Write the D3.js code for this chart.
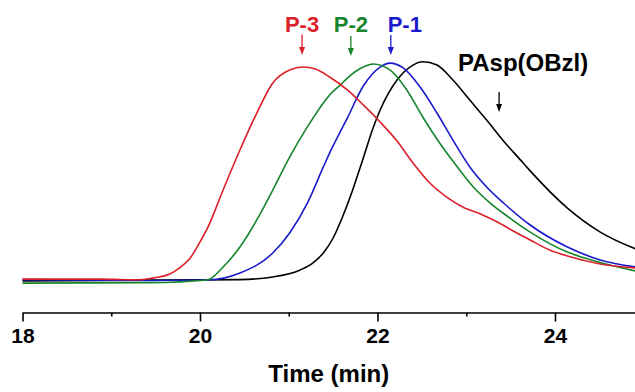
<!DOCTYPE html>
<html>
<head>
<meta charset="utf-8">
<script src="https://cdn.jsdelivr.net/npm/d3@7"></script>
<style>
  html, body { margin: 0; padding: 0; background: #fff; }
  svg { display: block; font-family: "Liberation Sans", Arial, Helvetica, sans-serif; }
</style>
</head>
<body>
<svg id="chart" width="635" height="392"></svg>
<script>
// ---- data (time in min, normalised detector signal) ----
const redTime   = [18.0, 18.87, 19.32, 19.44, 19.66, 19.77, 19.89, 20.0, 20.08, 20.26, 20.45, 20.64, 20.82, 21.01, 21.16, 21.30, 21.46, 21.66, 21.84, 22.03, 22.22, 22.40, 22.59, 22.78, 22.96, 23.16, 23.35, 23.53, 23.72, 23.94, 24.14, 24.51, 24.91];
const redValue  = [1.3, 1.3, 1.0, 1.6, 3.6, 6.4, 10.9, 18.2, 24.1, 41.8, 60.0, 76.8, 90.5, 96.4, 97.7, 96.8, 93.2, 87.3, 80.5, 72.7, 64.1, 54.1, 45.0, 38.6, 34.1, 30.9, 27.3, 23.2, 19.1, 14.5, 11.8, 8.2, 6.4];

const greenTime  = [18.0, 19.44, 20.08, 20.26, 20.45, 20.64, 20.82, 21.01, 21.21, 21.39, 21.46, 21.58, 21.66, 21.84, 21.95, 22.14, 22.33, 22.51, 22.70, 22.90, 23.08, 23.27, 23.46, 23.72, 24.14, 24.51, 24.91];
const greenValue = [-0.5, -0.3, 0.9, 6.8, 15.9, 28.2, 41.8, 56.8, 70.5, 81.4, 85.0, 89.5, 92.7, 97.7, 99.1, 96.4, 87.3, 75.0, 63.2, 52.3, 43.2, 35.9, 30.0, 22.7, 13.6, 8.9, 5.0];

const blueTime  = [18.0, 19.44, 20.08, 20.45, 20.82, 21.01, 21.21, 21.39, 21.46, 21.58, 21.66, 21.84, 22.03, 22.14, 22.29, 22.48, 22.67, 22.85, 23.04, 23.23, 23.42, 23.72, 24.14, 24.51, 24.91];
const blueValue = [1.1, 0.7, 0.9, 4.1, 13.2, 22.3, 35.9, 52.3, 58.6, 68.2, 74.5, 89.1, 97.7, 99.5, 97.3, 88.6, 76.8, 64.5, 52.3, 43.2, 35.9, 25.9, 15.9, 10.0, 6.8];

const blackTime  = [18.0, 20.45, 20.82, 21.13, 21.27, 21.39, 21.50, 21.61, 21.72, 21.84, 21.95, 22.03, 22.22, 22.40, 22.51, 22.67, 22.85, 23.04, 23.23, 23.42, 23.61, 23.72, 24.14, 24.51, 24.91];
const blackValue = [0.5, 1.1, 2.3, 5.5, 8.6, 13.2, 20.0, 30.0, 41.8, 56.4, 70.0, 78.2, 91.8, 98.6, 100.1, 98.6, 91.8, 82.7, 73.6, 64.1, 55.5, 50.5, 33.6, 22.7, 15.0];

const seriesNames  = ["PAsp(OBzl)", "P-1", "P-2", "P-3"];
const labelTimes   = [23.37, 22.15, 21.70, 21.15];   // arrow positions (min)
const majorTicks   = [18, 20, 22, 24];
const minorTicks   = [19, 21, 23];
const xTitle       = "Time (min)";

// ---- layout ----
const svg = d3.select("#chart");
const x = d3.scaleLinear().domain([18, 18 + (635 - 22.5) / 88.75]).range([22.5, 635]);
const y = d3.scaleLinear().domain([0, 100]).range([282, 62]);
const axisY = 312.5;

const colors = ["#000000", "#1a1acd", "#17852c", "#dc2029"];
const seriesData = [
  d3.zip(blackTime, blackValue),
  d3.zip(blueTime, blueValue),
  d3.zip(greenTime, greenValue),
  d3.zip(redTime, redValue)
];

const line = d3.line()
  .x(d => x(d[0]))
  .y(d => y(d[1]))
  .curve(d3.curveMonotoneX);

svg.append("g").selectAll("path")
  .data(seriesData)
  .join("path")
  .attr("d", line)
  .attr("fill", "none")
  .attr("stroke", (d, i) => colors[i])
  .attr("stroke-width", 1.6);

// ---- axis ----
const gx = svg.append("g").attr("transform", `translate(0,${axisY})`)
  .call(d3.axisBottom(x).tickValues(majorTicks).tickFormat(d3.format("d"))
    .tickSize(9).tickSizeOuter(0).tickPadding(7));
gx.select(".domain").attr("stroke", "#000").attr("stroke-width", 1.6);
gx.selectAll(".tick line").attr("stroke", "#000").attr("stroke-width", 1.6);
gx.selectAll(".tick text")
  .attr("font-size", 21).attr("font-weight", "bold").attr("fill", "#000")
  .attr("font-family", "'Liberation Sans', Arial, sans-serif");

const gm = svg.append("g").attr("transform", `translate(0,${axisY})`)
  .call(d3.axisBottom(x).tickValues(minorTicks).tickFormat("").tickSize(4).tickSizeOuter(0));
gm.select(".domain").remove();
gm.selectAll(".tick line").attr("stroke", "#000").attr("stroke-width", 1.6);

svg.append("text")
  .attr("x", (x.range()[0] + x.range()[1]) / 2)
  .attr("y", 382)
  .attr("text-anchor", "middle")
  .attr("font-size", 24).attr("font-weight", "bold").attr("fill", "#000")
  .text(xTitle);

// ---- annotations ----
const labelDx    = [24, 14, 0, 0];
const labelY     = [71, 31.7, 31.7, 31.7];
const labelSize  = [24, 22, 22, 22];
const arrowTop   = [92, 35, 36, 34.5];
const arrowBot   = [112, 55, 56, 55];

seriesNames.forEach((name, i) => {
  const ax = x(labelTimes[i]);
  svg.append("text")
    .attr("x", ax + labelDx[i]).attr("y", labelY[i])
    .attr("text-anchor", "middle")
    .attr("font-size", labelSize[i]).attr("font-weight", "bold")
    .attr("fill", colors[i])
    .text(name);
  svg.append("line")
    .attr("x1", ax).attr("x2", ax)
    .attr("y1", arrowTop[i]).attr("y2", arrowBot[i] - 5)
    .attr("stroke", colors[i]).attr("stroke-width", 1.3);
  svg.append("path")
    .attr("d", `M${ax - 3},${arrowBot[i] - 8} L${ax + 3},${arrowBot[i] - 8} L${ax},${arrowBot[i]} Z`)
    .attr("fill", colors[i]);
});
</script>
</body>
</html>
